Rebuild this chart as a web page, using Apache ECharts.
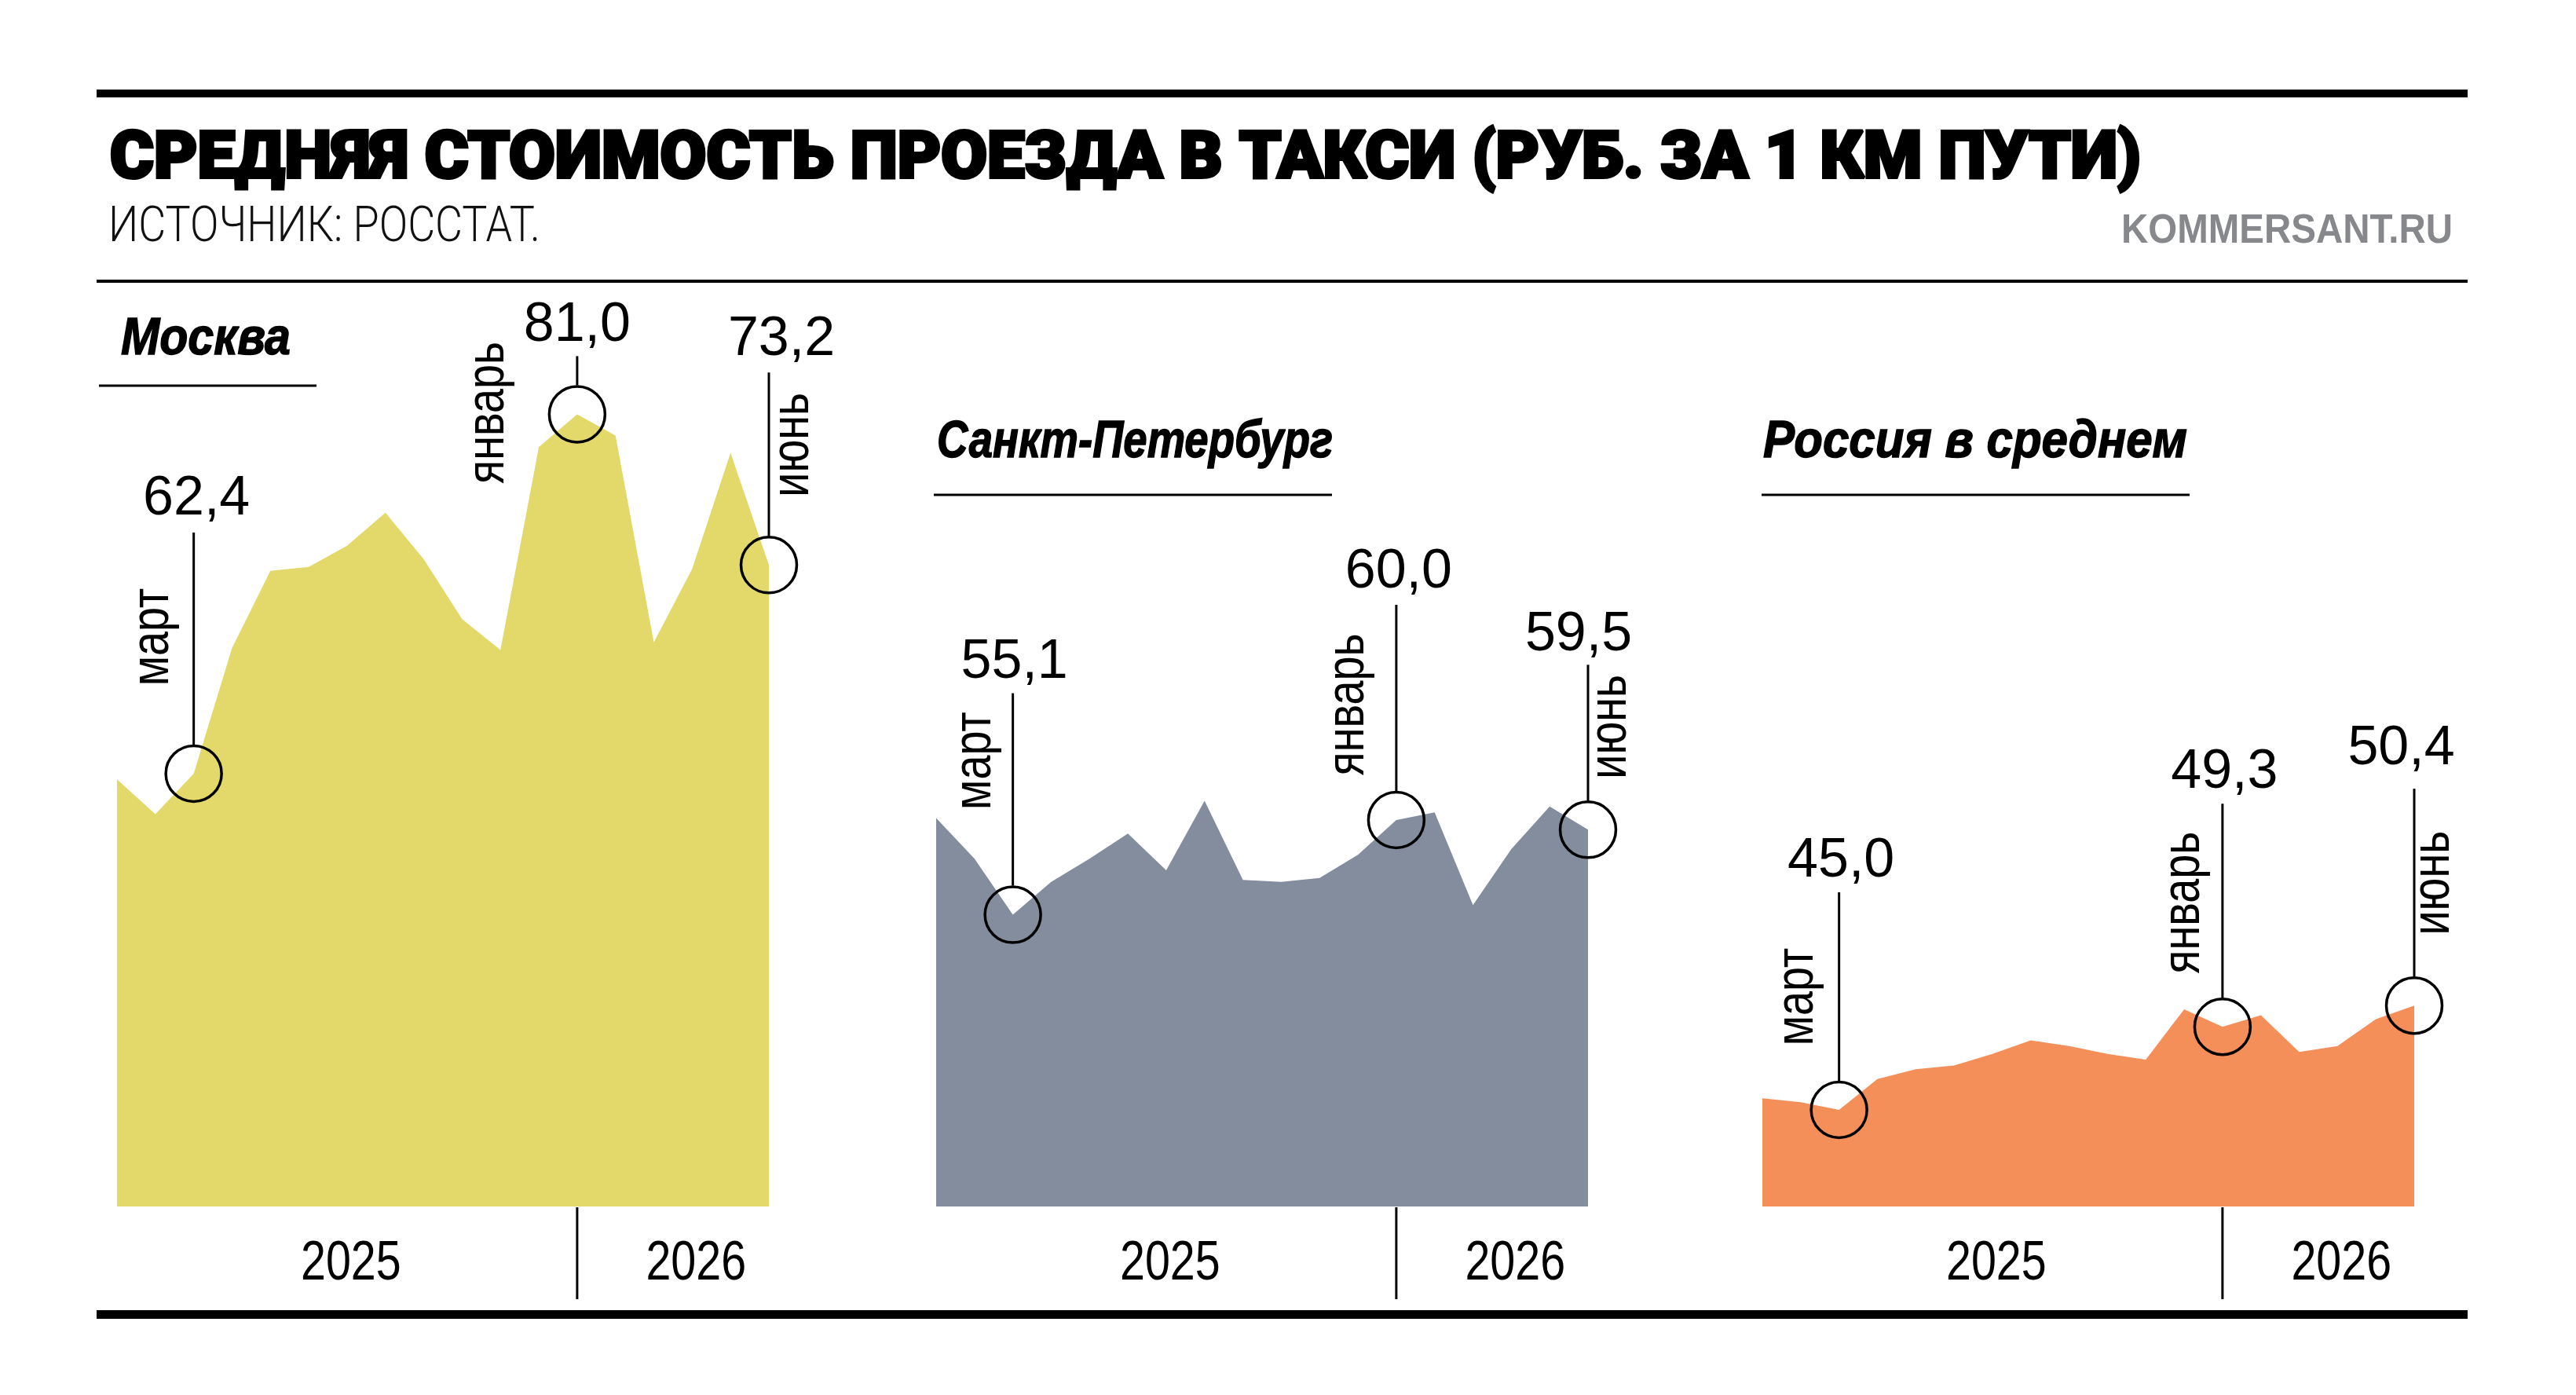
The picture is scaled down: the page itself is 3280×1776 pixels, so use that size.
<!DOCTYPE html>
<html><head><meta charset="utf-8">
<script src="https://cdn.jsdelivr.net/npm/echarts@6/dist/echarts.min.js"></script>
<style>html,body{margin:0;padding:0;background:#fff}#c{width:3280px;height:1776px}</style>
</head><body><div id="c"></div>
<script>
// ---- data ----
const months = ['янв 2025','фев 2025','мар 2025','апр 2025','май 2025','июн 2025','июл 2025','авг 2025','сен 2025','окт 2025','ноя 2025','дек 2025','янв 2026','фев 2026','мар 2026','апр 2026','май 2026','июн 2026'];
const moscow = [62.1,60.3,62.4,68.9,72.9,73.1,74.2,75.9,73.5,70.4,68.8,79.3,81.0,79.9,69.2,73.0,79.0,73.2];
const spb    = [60.1,58.0,55.1,56.8,58.0,59.3,57.4,61.0,56.9,56.8,57.0,58.2,60.0,60.4,55.6,58.5,60.7,59.5];
const russia = [45.6,45.4,45.0,46.6,47.1,47.3,47.9,48.6,48.3,47.9,47.6,50.2,49.3,49.9,48.0,48.3,49.7,50.4];
const panelTitles = ['Москва','Санкт-Петербург','Россия в среднем'];
const markedIdx = [2,12,17];
const markedMonths = ['март','январь','июнь'];
const yearLabels = ['2025','2026'];
const titleText = 'СРЕДНЯЯ СТОИМОСТЬ ПРОЕЗДА В ТАКСИ (РУБ. ЗА 1 КМ ПУТИ)';
const sourceText = 'ИСТОЧНИК: РОССТАТ.';
const brandText = 'KOMMERSANT.RU';

// ---- layout / style ----
const series = [moscow, spb, russia];
const colors = ['#e2d96a', '#838d9e', '#f48f5a'];
const gridLeft = [149, 1192, 2244];
const GW = 830, GTOP = 429, GH = 1107;
const annotLayout = [
  [{len:307,gap:22,ldx:3.5,mdx:-51,mdy:-174},{len:74,gap:19,ldx:0,mdx:-113,mdy:-2},{len:245,gap:22,ldx:16,mdx:31,mdy:-153}],
  [{len:282,gap:19,ldx:2,mdx:-47.5,mdy:-196},{len:274,gap:21,ldx:3,mdx:-60.6,mdy:-147},{len:210,gap:18,ldx:-12,mdx:29.4,mdy:-131}],
  [{len:277,gap:19,ldx:2.5,mdx:-52,mdy:-144},{len:284,gap:20,ldx:2.5,mdx:-49,mdy:-158},{len:276,gap:30,ldx:-16.5,mdx:25,mdy:-156}]
];
const panelTitleLayout = [
  {x:153, base:457, w:218, ux1:126, ux2:403, uy:491},
  {x:1192, base:588, w:506, ux1:1189, ux2:1696, uy:630},
  {x:2244, base:588, w:542, ux1:2243, ux2:2788, uy:630}
];
const yearPos = [6.1, 15.1];

const SANS = '"Liberation Sans", Arial, sans-serif';
const mctx = document.createElement('canvas').getContext('2d');
function fit(text, font, target) { mctx.font = font; return target / mctx.measureText(text).width; }

const chart = echarts.init(document.getElementById('c'), null, {renderer: 'canvas'});
const option = {
  animation: false,
  backgroundColor: '#ffffff',
  grid: gridLeft.map(l => ({left: l, width: GW, top: GTOP, height: GH})),
  xAxis: series.map((s, i) => ({type: 'category', gridIndex: i, data: months, boundaryGap: false, show: false})),
  yAxis: series.map((s, i) => ({type: 'value', gridIndex: i, min: 40, max: 85, show: false})),
  series: series.map((s, i) => ({
    type: 'line', xAxisIndex: i, yAxisIndex: i, data: s, symbol: 'none', silent: true, z: 1,
    lineStyle: {width: 0, color: colors[i]},
    areaStyle: {color: colors[i], opacity: 1, origin: 'start'}
  }))
};
chart.setOption(option);

const g = [];
const Z = 50;
// frame rules
g.push({type:'rect', z:Z, shape:{x:123, y:114, width:3019, height:10}, style:{fill:'#000'}});
g.push({type:'rect', z:Z, shape:{x:123, y:356, width:3019, height:4}, style:{fill:'#000'}});
g.push({type:'rect', z:Z, shape:{x:123, y:1668, width:3019, height:11}, style:{fill:'#000'}});
// title
g.push({type:'text', z:Z, x:140, y:205, scaleX: fit(titleText, '900 84px Roboto', 2586),
  style:{text:titleText, fill:'#000', stroke:'#000', lineWidth:4, align:'left', verticalAlign:'middle', fontFamily:'Roboto', fontWeight:900, fontSize:84}});
g.push({type:'text', z:Z, x:138, y:291, scaleX: fit(sourceText, '300 63px Roboto', 550),
  style:{text:sourceText, fill:'#111', align:'left', verticalAlign:'middle', fontFamily:'Roboto', fontWeight:300, fontSize:63}});
g.push({type:'text', z:Z, x:3123, y:295, scaleX: fit(brandText, 'bold 51px ' + SANS, 422),
  style:{text:brandText, fill:'#87888c', align:'right', verticalAlign:'middle', fontFamily:SANS, fontWeight:'bold', fontSize:51}});

series.forEach((data, i) => {
  const pl = panelTitleLayout[i];
  g.push({type:'text', z:Z, x:pl.x + 1, y:pl.base - 24,
    scaleX: fit(panelTitles[i], 'italic bold 67px ' + SANS, pl.w - 2),
    style:{text:panelTitles[i], fill:'#000', stroke:'#000', lineWidth:1.5, align:'left', verticalAlign:'middle', fontFamily:SANS, fontWeight:'bold', fontStyle:'italic', fontSize:67}});
  g.push({type:'line', z:Z, shape:{x1:pl.ux1, y1:pl.uy, x2:pl.ux2, y2:pl.uy}, style:{stroke:'#000', lineWidth:3}});

  const p0 = chart.convertToPixel({gridIndex:i}, [0, data[0]]);
  const p17 = chart.convertToPixel({gridIndex:i}, [17, data[17]]);
  const xAt = t => p0[0] + (p17[0] - p0[0]) * t / 17;
  const base = chart.convertToPixel({gridIndex:i}, [0, 40])[1];

  // year divider and labels
  const pj = chart.convertToPixel({gridIndex:i}, [12, data[12]]);
  g.push({type:'line', z:Z, shape:{x1:pj[0], y1:base + 1, x2:pj[0], y2:1654}, style:{stroke:'#000', lineWidth:3}});
  yearLabels.forEach((yl, k) => {
    g.push({type:'text', z:Z, x:xAt(yearPos[k]), y:1610, scaleX:0.82,
      style:{text:yl, fill:'#000', align:'center', verticalAlign:'middle', fontFamily:SANS, fontSize:70}});
  });

  markedIdx.forEach((idx, k) => {
    const p = chart.convertToPixel({gridIndex:i}, [idx, data[idx]]);
    const L = annotLayout[i][k];
    const top = p[1] - L.len;
    g.push({type:'circle', z:Z, shape:{cx:p[0], cy:p[1], r:35.5}, style:{fill:'none', stroke:'#000', lineWidth:3.5}});
    g.push({type:'line', z:Z, shape:{x1:p[0], y1:p[1] - 37, x2:p[0], y2:top}, style:{stroke:'#000', lineWidth:3}});
    g.push({type:'text', z:Z, x:p[0] + L.ldx, y:top - L.gap - 20,
      style:{text:data[idx].toFixed(1).replace('.', ','), fill:'#000', align:'center', verticalAlign:'middle', fontFamily:SANS, fontSize:70}});
    g.push({type:'text', z:Z, x:p[0] + L.mdx, y:p[1] + L.mdy, rotation:Math.PI/2, scaleX:0.82,
      style:{text:markedMonths[k], fill:'#000', align:'center', verticalAlign:'middle', fontFamily:SANS, fontSize:68}});
  });
});

chart.setOption({graphic: {elements: g}});
</script>
</body></html>
